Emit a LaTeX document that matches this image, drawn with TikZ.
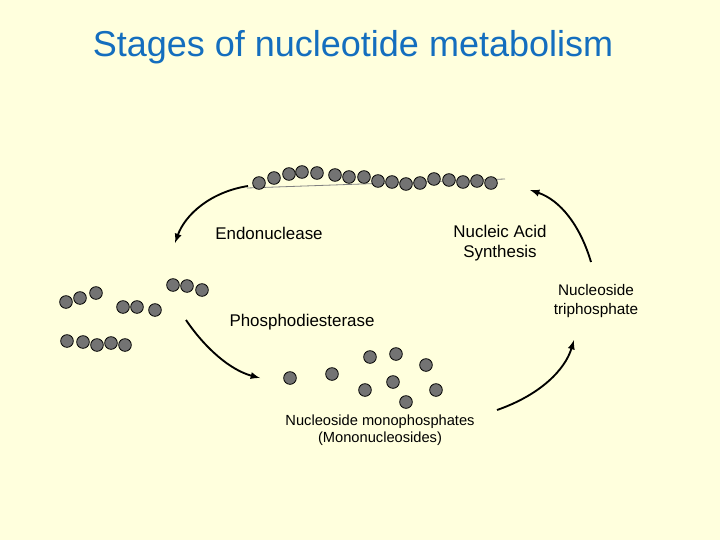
\documentclass[tikz,border=0pt]{standalone}
\usepackage{fontspec}
\setmainfont{Liberation Sans}
\definecolor{bg}{RGB}{255,255,221}
\definecolor{tblue}{RGB}{20,110,190}
\begin{document}
\begin{tikzpicture}[x=0.75pt,y=-0.75pt,
 bead/.style={circle,draw=black,fill=black!55,minimum size=9.5pt,inner sep=0pt,line width=0.6pt},
 arr/.style={-latex,line width=1.4pt},
 lab/.style={font=\fontsize{12.7}{14.5}\selectfont,align=center}]
\fill[bg] (0,0) rectangle (720,540);
\useasboundingbox (0,0) rectangle (720,540);
\node[text=tblue,font=\fontsize{27}{31}\selectfont] (title) at (353,47) {Stages of nucleotide metabolism};
\coordinate (c0) at (247,188); \coordinate (c1) at (505,179);
\draw[gray,line width=0.6pt] (c0) -- (c1);
\foreach \x/\y [count=\i] in {259/183,274/178,289/174,302/172,317/173,335/175,349/177,364/177,378/181,392/182,406/184,420/183,434/179,449/180,463/182,477/181,491/183}
 \node[bead] (p\i) at (\x,\y) {};
\foreach \x/\y [count=\i] in {66/302,80/298,96/293,123/307,137/307,155/310,173/285,187/286,202/290,67/341,83/342,97/345,111/343,125/345}
 \node[bead] (f\i) at (\x,\y) {};
\foreach \x/\y [count=\i] in {290/378,332/374,370/357,396/354,426/365,365/390,393/382,436/390,406/402}
 \node[bead] (m\i) at (\x,\y) {};
\node[lab] (endo) at (269,233) {Endonuclease};
\node[lab] (nas) at (500,243) {Nucleic Acid\\Synthesis};
\node[lab] (pde) at (302,322) {Phosphodiesterase};
\node[lab,font=\fontsize{11.5}{14.5}\selectfont] (nt) at (596,301) {Nucleoside\\triphosphate};
\node[lab,font=\fontsize{11}{12.5}\selectfont] (nm) at (380,430) {Nucleoside monophosphates\\(Mononucleosides)};
\coordinate (a1) at (248,186); \coordinate (a2) at (175,243);
\draw[arr] (a1) .. controls (210,192) and (185,215) .. (a2);
\coordinate (b1) at (591,262); \coordinate (b2) at (530,190);
\draw[arr] (b1) .. controls (580,225) and (560,200) .. (b2);
\coordinate (d1) at (186,320); \coordinate (d2) at (260,378);
\draw[arr] (d1) .. controls (205,348) and (230,370) .. (d2);
\coordinate (e1) at (497,410); \coordinate (e2) at (574,340);
\draw[arr] (e1) .. controls (540,395) and (565,370) .. (e2);
\end{tikzpicture}
\end{document}
